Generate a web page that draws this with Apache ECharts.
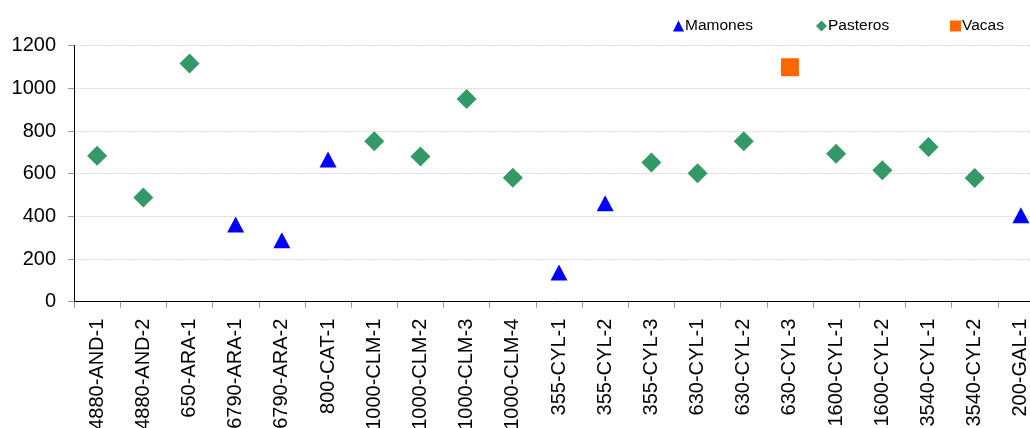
<!DOCTYPE html>
<html>
<head>
<meta charset="utf-8">
<script src="https://cdn.jsdelivr.net/npm/echarts@6/dist/echarts.min.js"></script>
<style>html,body{margin:0;padding:0;background:#fff;overflow:hidden;}#c{width:1030px;height:428px;}</style>
</head>
<body>
<div id="c"></div>
<script>
const categories = ['4880-AND-1','4880-AND-2','650-ARA-1','6790-ARA-1','6790-ARA-2','800-CAT-1','1000-CLM-1','1000-CLM-2','1000-CLM-3','1000-CLM-4','355-CYL-1','355-CYL-2','355-CYL-3','630-CYL-1','630-CYL-2','630-CYL-3','1600-CYL-1','1600-CYL-2','3540-CYL-1','3540-CYL-2','200-GAL-1'];
const mamones  = [null,null,null,362,288,667,null,null,null,null,137,461,null,null,null,null,null,null,null,null,405];
const pasteros = [684,489,1117,null,null,null,752,681,950,581,null,null,652,602,752,null,694,616,725,580,null];
const vacas    = [null,null,null,null,null,null,null,null,null,null,null,null,null,null,null,1099,null,null,null,null,null];
const yTicks = [0,200,400,600,800,1000,1200];

const FONT = 'Liberation Sans, Arial, sans-serif';
const chart = echarts.init(document.getElementById('c'), null, {renderer:'canvas'});
const legendBase = {
  orient:'horizontal', top:13, itemWidth:11, itemHeight:11, itemGap:0,
  textStyle:{fontFamily:FONT, fontSize:15.5, color:'#000', padding:[0,0,0,-4]},
  selectedMode:false
};
chart.setOption({
  animation:false,
  backgroundColor:'#fff',
  legend:[
    Object.assign({}, legendBase, {left:668, data:[{name:'Mamones', icon:'triangle'}]}),
    Object.assign({}, legendBase, {left:811, data:[{name:'Pasteros', icon:'diamond'}]}),
    Object.assign({}, legendBase, {left:945, data:[{name:'Vacas', icon:'rect'}]})
  ],
  grid:{left:74, width:970, top:45.7, height:256, containLabel:false, outerBoundsMode:'none'},
  xAxis:{
    type:'category', data:categories, boundaryGap:true,
    axisLine:{show:true, lineStyle:{color:'#000', width:1}},
    axisTick:{show:true, interval:0, length:6, lineStyle:{color:'#999'}},
    axisLabel:{interval:0, rotate:90, margin:17, fontFamily:FONT, fontSize:20, color:'#000'},
    splitLine:{show:false}
  },
  yAxis:{
    type:'value', min:yTicks[0], max:yTicks[yTicks.length-1], interval:200,
    axisLine:{show:true, lineStyle:{color:'#000', width:1}},
    axisTick:{show:true, length:6, lineStyle:{color:'#999'}},
    axisLabel:{margin:18, fontFamily:FONT, fontSize:20, color:'#000', formatter:function(v){return String(v);}},
    splitLine:{show:true, lineStyle:{color:'#dadada', type:[2,1], width:1}}
  },
  series:[
    {name:'Mamones', type:'scatter', data:mamones, symbol:'triangle', symbolSize:[17,16], itemStyle:{color:'#0000ff', opacity:1}},
    {name:'Pasteros', type:'scatter', data:pasteros, symbol:'diamond', symbolSize:[20,20], itemStyle:{color:'#339966', opacity:1}},
    {name:'Vacas', type:'scatter', data:vacas, symbol:'rect', symbolSize:[18,18], itemStyle:{color:'#ff6600', opacity:1}}
  ]
});
</script>
</body>
</html>
